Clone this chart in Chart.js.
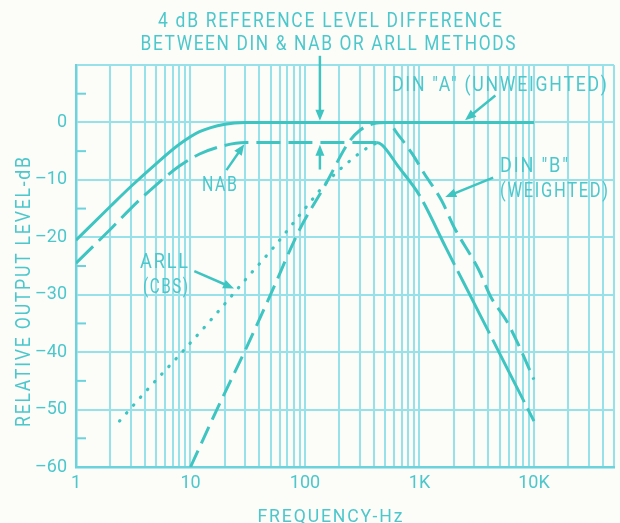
<!DOCTYPE html>
<html>
<head>
<meta charset="utf-8">
<script src="https://cdn.jsdelivr.net/npm/chart.js@4/dist/chart.umd.min.js"></script>
<style>
    html, body { margin: 0; padding: 0; background: #fcfdf8; }
    canvas { display: block; }
</style>
</head>
<body>
<canvas id="chart" width="620" height="523"></canvas>
<script>
// frequency (Hz) and level (dB)
const dinAFreq = [1, 2, 3, 5, 8, 12, 20, 30, 10000];
const dinALevel = [-20.5, -14.6, -11.2, -7.2, -3.8, -1.6, -0.3, 0, 0];

const nabFreq = [1, 2, 3, 5, 8, 12, 19, 30, 100, 420, 470, 660, 1000, 1700, 2800, 4200, 6000, 10000];
const nabLevel = [-24.5, -18.6, -15, -10.9, -7.6, -5.5, -4.1, -3.5, -3.5, -3.5, -3.9, -7.8, -12.7, -21.8, -30.3, -37.2, -43.3, -52];

const dinBFreq = [10, 17, 30, 50, 89, 152, 240, 300, 400, 520, 660, 860, 1100, 1560, 2000, 3300, 4200, 5700, 7200, 10000];
const dinBLevel = [-60, -50, -39.7, -30, -18.8, -10.7, -3.5, -1.4, -0.2, 0, -2.3, -5.4, -8.9, -13.6, -18.2, -25.7, -30.4, -34.4, -38.4, -44.8];

const arllFreq = [2.4, 4, 8, 16, 32, 52, 100, 162, 250, 340, 420];
const arllLevel = [-52, -47, -40.5, -33.8, -26.8, -22, -15, -10, -6.6, -4.6, -3.6];

const xDecades = [1, 10, 100, 1000, 10000];
const xDecadeLabels = ['1', '10', '100', '1K', '10K'];
const xMax = 50000;
const yMinorTicks = [5, -5, -15, -25, -35, -45, -55];

const titleLines = ['4 dB REFERENCE LEVEL DIFFERENCE', 'BETWEEN DIN & NAB OR ARLL METHODS'];
const xTitle = 'FREQUENCY-Hz';
const yTitle = 'RELATIVE OUTPUT LEVEL-dB';

const ink = '#4cc7cc';
const curve = '#3ec5c1';
const gridColor = '#97e1ea';
const borderColor = '#6cd2dc';

// label text, box (x, baseline, width, size, align)
const labels = [
    { text: titleLines[0], x: 330, y: 27, w: 344, size: 20, align: 'center' },
    { text: titleLines[1], x: 328, y: 50, w: 375, size: 21, align: 'center' },
    { text: 'DIN "A" (UNWEIGHTED)', x: 392, y: 91, w: 215, size: 20, align: 'left' },
    { text: 'DIN "B"', x: 500, y: 172, w: 68, size: 20, align: 'left' },
    { text: '(WEIGHTED)', x: 500, y: 197, w: 108, size: 20, align: 'left' },
    { text: 'NAB', x: 202, y: 191, w: 35, size: 20, align: 'left' },
    { text: 'ARLL', x: 140, y: 268, w: 48, size: 20, align: 'left' },
    { text: '(CBS)', x: 143, y: 293, w: 45, size: 20, align: 'left' },
    { text: xTitle, x: 330, y: 522, w: 145, size: 19, align: 'center' },
];

// arrows in data units: [freq, dB] -> [freq, dB]
const arrows = [
    { from: [135, 11.6], to: [135, 0.3] },
    { from: [135, -8.2], to: [135, -3.9] },
    { from: [4600, 4.7], to: [2500, 0.4] },
    { from: [20.6, -8.3], to: [29.5, -3.8] },
    { from: [4400, -9.6], to: [1680, -13] },
    { from: [10.8, -25.9], to: [24, -28.9] },
];

function points(xs, ys) {
    return xs.map((x, i) => ({ x, y: ys[i] }));
}

function fitText(ctx, item) {
    ctx.save();
    ctx.font = `${item.size}px Roboto, 'DejaVu Sans', sans-serif`;
    ctx.letterSpacing = '2px';
    ctx.fillStyle = ink;
    ctx.textBaseline = 'alphabetic';
    ctx.textAlign = item.align;
    const sx = item.w / (ctx.measureText(item.text).width - 2);
    ctx.translate(item.x, item.y);
    if (item.rotate) ctx.rotate(item.rotate);
    ctx.scale(sx, 1);
    ctx.fillText(item.text, item.align === 'center' ? 1 : 0, 0);
    ctx.restore();
}

function drawArrow(ctx, x0, y0, x1, y1) {
    const ang = Math.atan2(y1 - y0, x1 - x0);
    const len = 11, half = 4.5;
    ctx.beginPath();
    ctx.moveTo(x0, y0);
    ctx.lineTo(x1 - Math.cos(ang) * len * 0.6, y1 - Math.sin(ang) * len * 0.6);
    ctx.stroke();
    ctx.beginPath();
    ctx.moveTo(x1, y1);
    ctx.lineTo(x1 - Math.cos(ang) * len - Math.sin(ang) * half, y1 - Math.sin(ang) * len + Math.cos(ang) * half);
    ctx.lineTo(x1 - Math.cos(ang) * len + Math.sin(ang) * half, y1 - Math.sin(ang) * len - Math.cos(ang) * half);
    ctx.closePath();
    ctx.fill();
}

const decorations = {
    id: 'decorations',
    beforeDraw(chart) {
        const { ctx } = chart;
        ctx.save();
        ctx.fillStyle = '#fcfdf8';
        ctx.fillRect(0, 0, chart.width, chart.height);
        ctx.restore();
    },
    beforeDatasetsDraw(chart) {
        const { ctx, chartArea, scales } = chart;
        ctx.save();
        ctx.strokeStyle = borderColor;
        ctx.lineWidth = 2;
        yMinorTicks.forEach((v) => {
            const y = scales.y.getPixelForValue(v);
            ctx.beginPath();
            ctx.moveTo(chartArea.left, y);
            ctx.lineTo(chartArea.left + 10, y);
            ctx.stroke();
        });
        ctx.restore();
    },
    afterDatasetsDraw(chart) {
        const { ctx, scales } = chart;
        labels.forEach((item) => fitText(ctx, item));
        fitText(ctx, { text: yTitle, x: 30, y: 292, w: 270, size: 20, align: 'center', rotate: -Math.PI / 2 });

        ctx.save();
        ctx.strokeStyle = curve;
        ctx.fillStyle = curve;
        ctx.lineWidth = 2.5;
        arrows.forEach((a) => {
            drawArrow(
                ctx,
                scales.x.getPixelForValue(a.from[0]),
                scales.y.getPixelForValue(a.from[1]),
                scales.x.getPixelForValue(a.to[0]),
                scales.y.getPixelForValue(a.to[1]),
            );
        });
        ctx.restore();
    },
};

Chart.defaults.font.family = "Roboto, 'DejaVu Sans', sans-serif";

const lineBase = {
    borderColor: curve,
    borderWidth: 3,
    pointRadius: 0,
    fill: false,
    cubicInterpolationMode: 'monotone',
};

new Chart(document.getElementById('chart'), {
    type: 'line',
    data: {
        datasets: [
            { ...lineBase, label: 'DIN "A" (unweighted)', data: points(dinAFreq, dinALevel) },
            {
                ...lineBase,
                label: 'NAB',
                data: points(nabFreq, nabLevel),
                borderDash: [24, 8],
                segment: {
                    borderDash: (c) => (c.p0.parsed.x >= 420 ? [70, 7] : undefined),
                },
            },
            { ...lineBase, label: 'DIN "B" (weighted)', data: points(dinBFreq, dinBLevel), borderDash: [18, 8] },
            {
                ...lineBase,
                label: 'ARLL (CBS)',
                data: points(arllFreq, arllLevel),
                borderDash: [0.5, 10],
                borderCapStyle: 'round',
                borderWidth: 3.2,
            },
        ],
    },
    options: {
        responsive: false,
        animation: false,
        devicePixelRatio: 1,
        layout: { padding: { top: 65, right: 3, left: 0, bottom: 0 } },
        plugins: {
            legend: { display: false },
            tooltip: { enabled: false },
        },
        scales: {
            x: {
                type: 'logarithmic',
                min: 1,
                max: xMax,
                afterBuildTicks: (scale) => {
                    const ticks = [];
                    xDecades.forEach((d) => {
                        for (let m = 1; m <= 9; m++) {
                            if (d * m <= xMax) ticks.push({ value: d * m });
                        }
                    });
                    scale.ticks = ticks;
                },
                afterFit: (scale) => {
                    scale.height = 56;
                },
                grid: { color: gridColor, lineWidth: 2, drawTicks: false },
                border: { color: borderColor, width: 2.5 },
                ticks: {
                    autoSkip: false,
                    maxRotation: 0,
                    padding: 6,
                    color: ink,
                    font: { size: 18 },
                    callback: (v) => {
                        const i = xDecades.indexOf(v);
                        return i >= 0 ? xDecadeLabels[i] : '';
                    },
                },
            },
            y: {
                min: -60,
                max: 10,
                afterFit: (scale) => {
                    scale.width = 76;
                },
                grid: { color: gridColor, lineWidth: 2, drawTicks: false },
                border: { color: borderColor, width: 2.5 },
                ticks: {
                    stepSize: 10,
                    padding: 9,
                    color: ink,
                    font: { size: 18 },
                    callback: (v) => (v > 0 ? '' : v === 0 ? '0' : '\u2013' + Math.abs(v)),
                },
            },
        },
    },
    plugins: [decorations],
});
</script>
</body>
</html>
